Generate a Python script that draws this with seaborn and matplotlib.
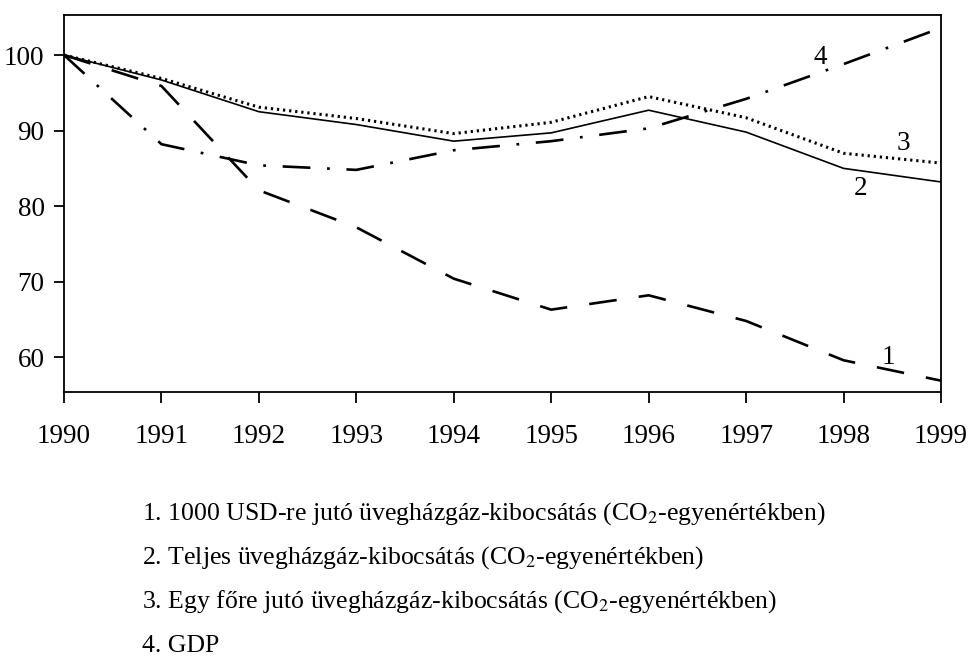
import matplotlib
matplotlib.use("Agg")
import matplotlib.pyplot as plt
import seaborn as sns
import pandas as pd

# data (index, 1990 = 100)
years = [1990, 1991, 1992, 1993, 1994, 1995, 1996, 1997, 1998, 1999]
s1_per_usd = [100, 95.9, 82.1, 77.2, 70.4, 66.3, 68.2, 64.8, 59.6, 56.9]
s2_total = [100, 96.7, 92.5, 90.8, 88.6, 89.7, 92.7, 89.8, 85.0, 83.2]
s3_per_capita = [100, 96.9, 93.1, 91.6, 89.6, 91.1, 94.5, 91.7, 87.0, 85.7]
s4_gdp = [100, 88.2, 85.4, 84.8, 87.4, 88.6, 90.3, 94.2, 98.8, 103.6]

y_ticks = [60, 70, 80, 90, 100]
series_labels = ["1", "2", "3", "4"]
legend_lines = [
    "1. 1000 USD-re jutó üvegházgáz-kibocsátás (CO$_2$-egyenértékben)",
    "2. Teljes üvegházgáz-kibocsátás (CO$_2$-egyenértékben)",
    "3. Egy főre jutó üvegházgáz-kibocsátás (CO$_2$-egyenértékben)",
    "4. GDP",
]

sns.set_theme(style="white")
plt.rcParams["font.family"] = ["Liberation Serif", "DejaVu Serif"]
plt.rcParams["mathtext.fontset"] = "stix"
plt.rcParams["lines.scale_dashes"] = False

df = pd.DataFrame({"year": years, "s1": s1_per_usd, "s2": s2_total,
                   "s3": s3_per_capita, "s4": s4_gdp})

fig = plt.figure(figsize=(9.68, 6.6), dpi=100)
ax = fig.add_axes([64 / 968, 1 - 392 / 660, 877 / 968, 377 / 660])

styles = {
    "s1": dict(linestyle=(0, (20, 16)), linewidth=1.9),
    "s2": dict(linestyle="-", linewidth=1.2),
    "s3": dict(linestyle=(0, (1.6, 2.8)), linewidth=2.2),
    "s4": dict(linestyle=(0, (20, 12, 2, 12)), linewidth=1.9),
}
for col, st in styles.items():
    sns.lineplot(data=df, x="year", y=col, ax=ax, color="black", **st)

ax.set_xlim(1990, 1999)
ax.set_ylim(55.4, 105.3)
ax.set_xticks(years)
ax.set_yticks(y_ticks)
ax.set_xlabel("")
ax.set_ylabel("")
for sp in ax.spines.values():
    sp.set_visible(True)
    sp.set_color("black")
    sp.set_linewidth(1.3)
ax.tick_params(axis="x", direction="out", length=8, width=1.3, pad=15,
               labelsize=19.5, colors="black", bottom=True)
ax.tick_params(axis="y", direction="out", length=7, width=1.3, pad=7,
               labelsize=19.5, colors="black", left=True)

# series numbers on the lines
label_pos = [(1998.46, 60.0), (1998.17, 82.4), (1998.61, 88.3), (1997.76, 99.7)]
for lab, (lx, ly) in zip(series_labels, label_pos):
    ax.text(lx, ly, lab, fontsize=19.5, ha="center", va="center", color="black")

# legend text below the chart
baselines = [520, 564, 608, 652]
for txt, yb in zip(legend_lines, baselines):
    fig.text(142 / 968, 1 - yb / 660, txt, fontsize=18.5, ha="left",
             va="baseline", color="black")

fig.savefig("out.png", dpi=100)
